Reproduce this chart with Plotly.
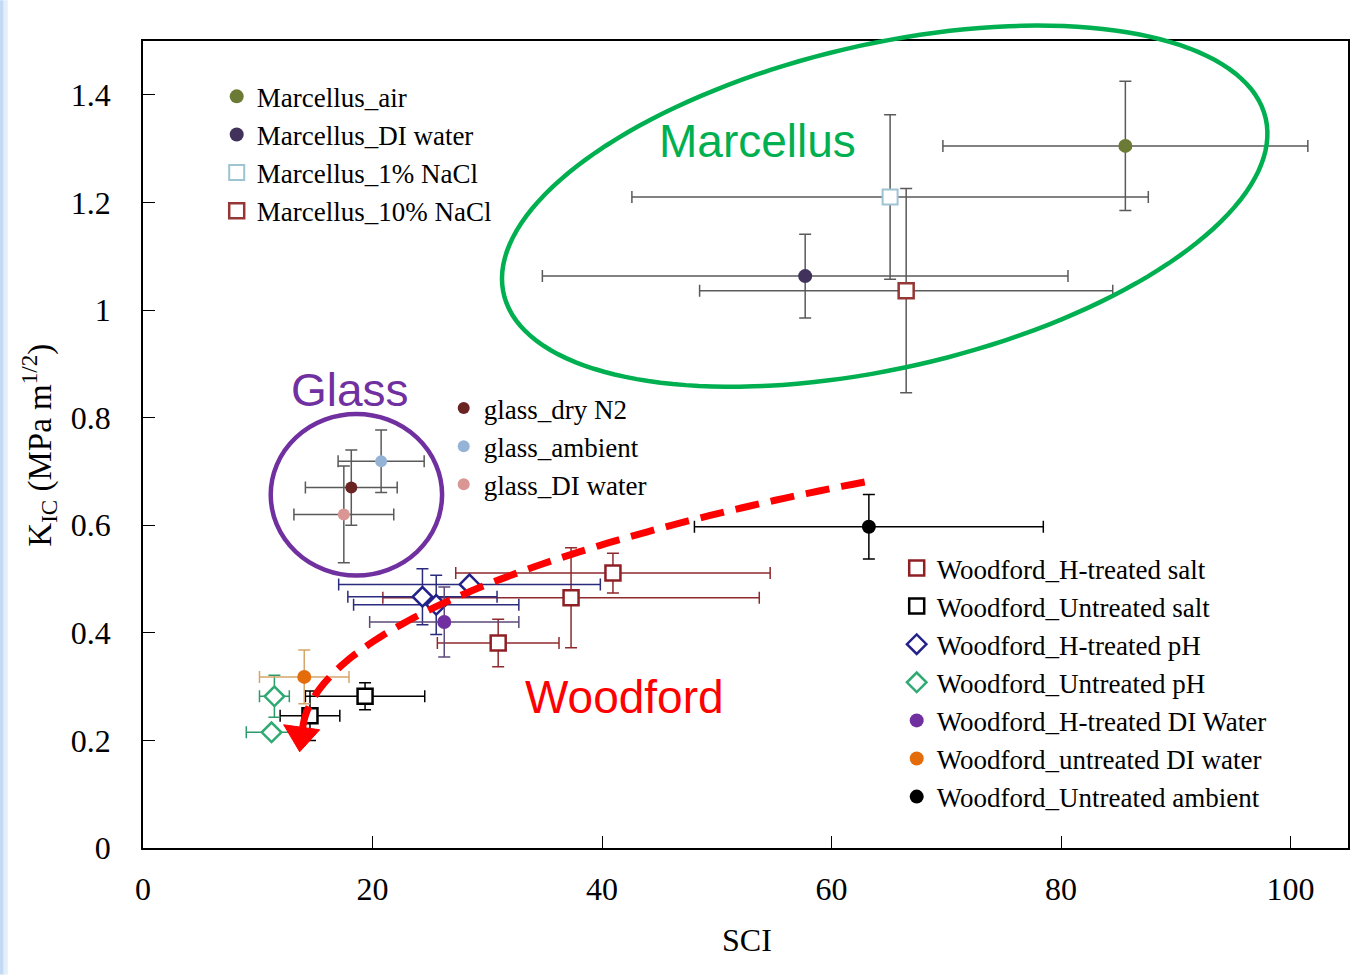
import numpy as np
import plotly.graph_objects as go

# ---------------- data ----------------
marc_names = ["Marcellus_air", "Marcellus_DI water", "Marcellus_1% NaCl", "Marcellus_10% NaCl"]
marc_x = [85.6, 57.7, 65.1, 66.5]
marc_y = [1.305, 1.063, 1.21, 1.036]
marc_ex = [15.9, 22.9, 22.5, 18.0]
marc_ey = [0.12, 0.078, 0.153, 0.19]

glass_names = ["glass_dry N2", "glass_ambient", "glass_DI water"]
glass_x = [18.15, 20.75, 17.5]
glass_y = [0.670, 0.719, 0.620]
glass_ex = [4.0, 3.75, 4.35]
glass_ey = [0.07, 0.058, 0.09]

wf_names = ["Woodford_H-treated salt", "Woodford_Untreated salt", "Woodford_H-treated pH",
            "Woodford_Untreated pH", "Woodford_H-treated DI Water", "Woodford_untreated DI water",
            "Woodford_Untreated ambient"]
wf_x = [[40.95, 37.3, 30.95], [19.35, 14.55], [24.35, 25.55, 28.45], [11.45, 11.2], [26.25], [14.05], [63.25]]
wf_y = [[0.511, 0.465, 0.381], [0.282, 0.246], [0.467, 0.452, 0.490], [0.282, 0.215], [0.420], [0.318], [0.597]]
wf_ex = [[13.7, 16.4, 5.3], [5.2, 2.6], [6.5, 7.2, 11.4], [1.3, 2.2], [6.5], [3.9], [15.2]]
wf_ey = [[0.037, 0.093, 0.044], [0.025, 0.046], [0.052, 0.055, 0.0], [0.039, 0.0], [0.065], [0.05], [0.06]]

x_ticks = [0, 20, 40, 60, 80, 100]
y_ticks = [0, 0.2, 0.4, 0.6, 0.8, 1.0, 1.2, 1.4]
y_ticktext = ["0", "0.2", "0.4", "0.6", "0.8", "1", "1.2", "1.4"]

# ---------------- styles ----------------
W, H = 1362, 975
PL, PR, PT, PB = 143.3, 1348.3, 40.7, 848.3
SERIF = "Liberation Serif"
SANS = "Liberation Sans"
GRAY = "#5a5a5a"

marc_style = [
    dict(symbol="circle", size=14, color="#6b7a35", line=dict(width=0)),
    dict(symbol="circle", size=14, color="#40325a", line=dict(width=0)),
    dict(symbol="square", size=15, color="white", line=dict(width=2, color="#9ec3d2")),
    dict(symbol="square", size=15, color="white", line=dict(width=2.5, color="#953735")),
]
glass_style = [
    dict(symbol="circle", size=12, color="#6b2424", line=dict(width=0)),
    dict(symbol="circle", size=12, color="#95b3d7", line=dict(width=0)),
    dict(symbol="circle", size=12, color="#d99694", line=dict(width=0)),
]
wf_style = [
    dict(symbol="square", size=15, color="white", line=dict(width=2.5, color="#8e1f24")),
    dict(symbol="square", size=15, color="white", line=dict(width=2.5, color="black")),
    dict(symbol="diamond", size=15, color="white", line=dict(width=2.5, color="#22228a")),
    dict(symbol="diamond", size=15, color="white", line=dict(width=2.5, color="#2eaa72")),
    dict(symbol="circle", size=14, color="#7030a0", line=dict(width=0)),
    dict(symbol="circle", size=14, color="#e46c0a", line=dict(width=0)),
    dict(symbol="circle", size=14, color="black", line=dict(width=0)),
]
wf_err_col = ["#8e2a2e", "black", "#2b2b7e", "#2e9a6a", "#5b4a7a", "#d6a56a", "black"]

fig = go.Figure()


def add(name, x, y, ex, ey, marker, ecol, legend):
    fig.add_trace(go.Scatter(
        x=x, y=y, mode="markers", name=name, marker=marker, legend=legend,
        error_x=dict(type="data", array=ex, color=ecol, thickness=1.5, width=6),
        error_y=dict(type="data", array=ey, color=ecol, thickness=1.5, width=6),
    ))


for i, n in enumerate(marc_names):
    add(n, [marc_x[i]], [marc_y[i]], [marc_ex[i]], [marc_ey[i]], marc_style[i], GRAY, "legend")
for i, n in enumerate(glass_names):
    add(n, [glass_x[i]], [glass_y[i]], [glass_ex[i]], [glass_ey[i]], glass_style[i], GRAY, "legend2")
for i, n in enumerate(wf_names):
    add(n, wf_x[i], wf_y[i], wf_ex[i], wf_ey[i], wf_style[i], wf_err_col[i], "legend3")

# ---------------- helpers for pixel-placed decorations ----------------
def px(xp):
    return (xp - PL) / (PR - PL)


def py(yp):
    return (PB - yp) / (PB - PT)


def path_from(points, close=True):
    s = "M " + " L ".join(f"{px(a):.5f},{py(b):.5f}" for a, b in points)
    return s + (" Z" if close else "")


shapes = []
# left light-blue strip
shapes.append(dict(type="rect", xref="paper", yref="paper", x0=px(0), x1=px(4), y0=py(975), y1=py(0),
                   fillcolor="#c3d9f4", line=dict(width=0), layer="below"))
shapes.append(dict(type="rect", xref="paper", yref="paper", x0=px(4), x1=px(8), y0=py(975), y1=py(0),
                   fillcolor="#e3eefb", line=dict(width=0), layer="below"))

# green ellipse (Marcellus)
cx, cy, a, b, th = 885, 206, 391, 162, np.deg2rad(13.0)
t = np.linspace(0, 2 * np.pi, 160)
ex_ = cx + a * np.cos(t) * np.cos(th) - b * np.sin(t) * np.sin(th)
ey_ = cy - (a * np.cos(t) * np.sin(th) + b * np.sin(t) * np.cos(th))
shapes.append(dict(type="path", xref="paper", yref="paper", path=path_from(zip(ex_, ey_)),
                   line=dict(color="#00b050", width=4.5)))

# purple circle (Glass)
shapes.append(dict(type="circle", xref="paper", yref="paper",
                   x0=px(356.7 - 85.7), x1=px(356.7 + 85.7), y0=py(494.8 + 80.8), y1=py(494.8 - 80.8),
                   line=dict(color="#7030a0", width=4.5)))

# red dashed curved arrow
bz = [(865, 482), (560, 540), (315, 630), (303, 728)]
tt = np.linspace(0, 1, 80)
bx = ((1 - tt) ** 3) * bz[0][0] + 3 * ((1 - tt) ** 2) * tt * bz[1][0] + 3 * (1 - tt) * tt ** 2 * bz[2][0] + tt ** 3 * bz[3][0]
by = ((1 - tt) ** 3) * bz[0][1] + 3 * ((1 - tt) ** 2) * tt * bz[1][1] + 3 * (1 - tt) * tt ** 2 * bz[2][1] + tt ** 3 * bz[3][1]
shapes.append(dict(type="path", xref="paper", yref="paper", path=path_from(zip(bx, by), close=False),
                   line=dict(color="#ff0000", width=7, dash="24px,12px")))
shapes.append(dict(type="path", xref="paper", yref="paper",
                   path=path_from([(284, 725), (320, 730), (300, 752)]),
                   fillcolor="#ff0000", line=dict(color="#ff0000", width=1)))

annotations = [
    dict(text="Marcellus", x=px(758), y=py(141), font=dict(family=SANS, size=46, color="#00b050")),
    dict(text="Glass", x=px(350), y=py(390), font=dict(family=SANS, size=46, color="#7030a0")),
    dict(text="Woodford", x=px(625), y=py(697), font=dict(family=SANS, size=46, color="#ff0000")),
    dict(text="SCI", x=px(747), y=py(940), font=dict(family=SERIF, size=32, color="black")),
    dict(text="K<sub>IC</sub> (MPa m<sup>1/2</sup>)", x=px(40), y=py(445), textangle=-90,
         font=dict(family=SERIF, size=33, color="black")),
]
for an in annotations:
    an.update(xref="paper", yref="paper", showarrow=False, xanchor="center", yanchor="middle")

leg_common = dict(font=dict(family=SERIF, size=27, color="black"), bgcolor="rgba(0,0,0,0)",
                  xanchor="left", yanchor="top", itemwidth=30, tracegroupgap=0, traceorder="normal")

fig.update_layout(
    width=W, height=H,
    margin=dict(l=PL, r=W - PR, t=PT, b=H - PB, pad=0),
    paper_bgcolor="white", plot_bgcolor="white",
    showlegend=True,
    legend=dict(x=px(217), y=py(72), **leg_common),
    legend2=dict(x=px(444), y=py(384), **leg_common),
    legend3=dict(x=px(897), y=py(544), **leg_common),
    shapes=shapes,
    annotations=annotations,
    xaxis=dict(range=[0, 105], tickvals=x_ticks, ticks="inside", ticklen=12, tickwidth=1.2,
               tickcolor="black", showline=True, linecolor="black", linewidth=1.5, mirror=True,
               showgrid=False, zeroline=False, ticklabelstandoff=12,
               tickfont=dict(family=SERIF, size=32, color="black")),
    yaxis=dict(range=[0, 1.5], tickvals=y_ticks, ticktext=y_ticktext, ticks="inside", ticklen=12,
               tickwidth=1.2, tickcolor="black", showline=True, linecolor="black", linewidth=1.5,
               mirror=True, showgrid=False, zeroline=False, ticklabelstandoff=24,
               tickfont=dict(family=SERIF, size=32, color="black")),
)

fig.write_html("out.html")
